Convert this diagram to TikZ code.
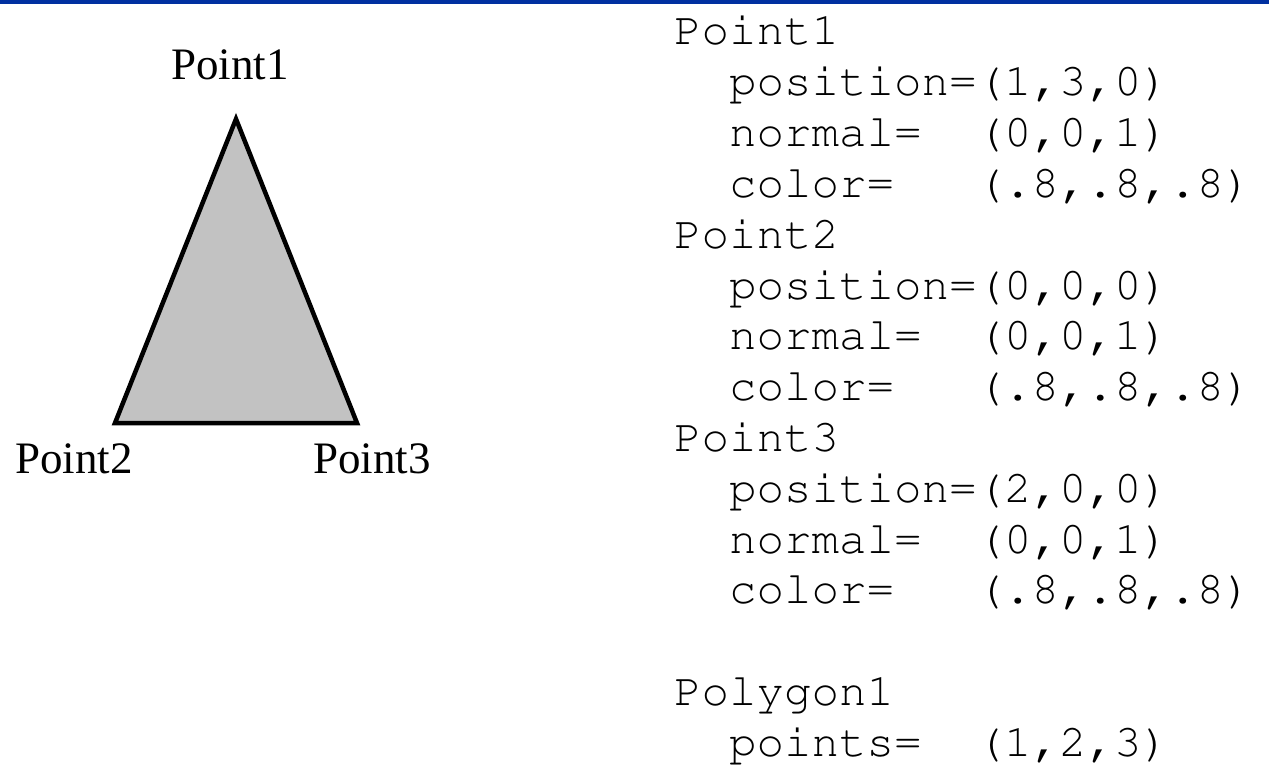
\documentclass[tikz,border=0pt]{standalone}
\usepackage{fontspec}
\setmainfont{Liberation Serif}
\usetikzlibrary{positioning}
\definecolor{slidebar}{RGB}{0,48,160}
\definecolor{trifill}{gray}{0.76}
\newcommand{\courierfont}{\fontencoding{T1}\fontfamily{pcr}\selectfont}
\def\codex{674}
\def\codey{45}
\def\codestep{50.8}
\def\charw{27.5}
\tikzset{
  ptlbl/.style={font=\fontsize{45}{45}\selectfont, inner sep=0pt},
  code/.style={font=\courierfont\fontsize{45.8}{50.8}\selectfont, inner sep=0pt, anchor=base west},
  tri/.style={draw=black, line width=4.5pt, line join=miter, fill=trifill},
}
\newcommand{\VertexCode}[3]{%
  \node[code] (#1) at (\codex,{\codey+#2*\codestep}) {#1};
  \foreach \k/\v [count=\j] in {position=/#3, normal=/{(0,0,1)}, color=/{(.8,.8,.8)}} {
    \node[code] (#1k\j) at ({\codex+2*\charw},{\codey+(#2+\j)*\codestep}) {\k};
    \node[code] (#1v\j) at ({\codex+11*\charw},{\codey+(#2+\j)*\codestep}) {\v};
  }
}

\begin{document}
\begin{tikzpicture}[x=1pt,y=-1pt]
  \fill[white] (0,0) rectangle (1269,765);
  \useasboundingbox (0,0) rectangle (1269,765);
  \fill[slidebar] (0,0) rectangle (1269,4);
  % triangle
  \coordinate (v1) at (236,119);
  \coordinate (v2) at (115,423);
  \coordinate (v3) at (357,423);
  \draw[tri] (v1) -- (v2) -- (v3) -- cycle;
  \node[ptlbl, above=39pt of v1, xshift=-6pt] (lbl1) {Point1};
  \node[ptlbl, anchor=base] (lbl2) at (74,473) {Point2};
  \node[ptlbl, anchor=base] (lbl3) at (372,473) {Point3};
  % vertex list
  \VertexCode{Point1}{0}{{(1,3,0)}}
  \VertexCode{Point2}{4}{{(0,0,0)}}
  \VertexCode{Point3}{8}{{(2,0,0)}}
  \node[code] (poly) at (\codex,{\codey+13*\codestep}) {Polygon1};
  \node[code] (polyk) at ({\codex+2*\charw},{\codey+14*\codestep}) {points=};
  \node[code] (polyv) at ({\codex+11*\charw},{\codey+14*\codestep}) {(1,2,3)};
\end{tikzpicture}
\end{document}
